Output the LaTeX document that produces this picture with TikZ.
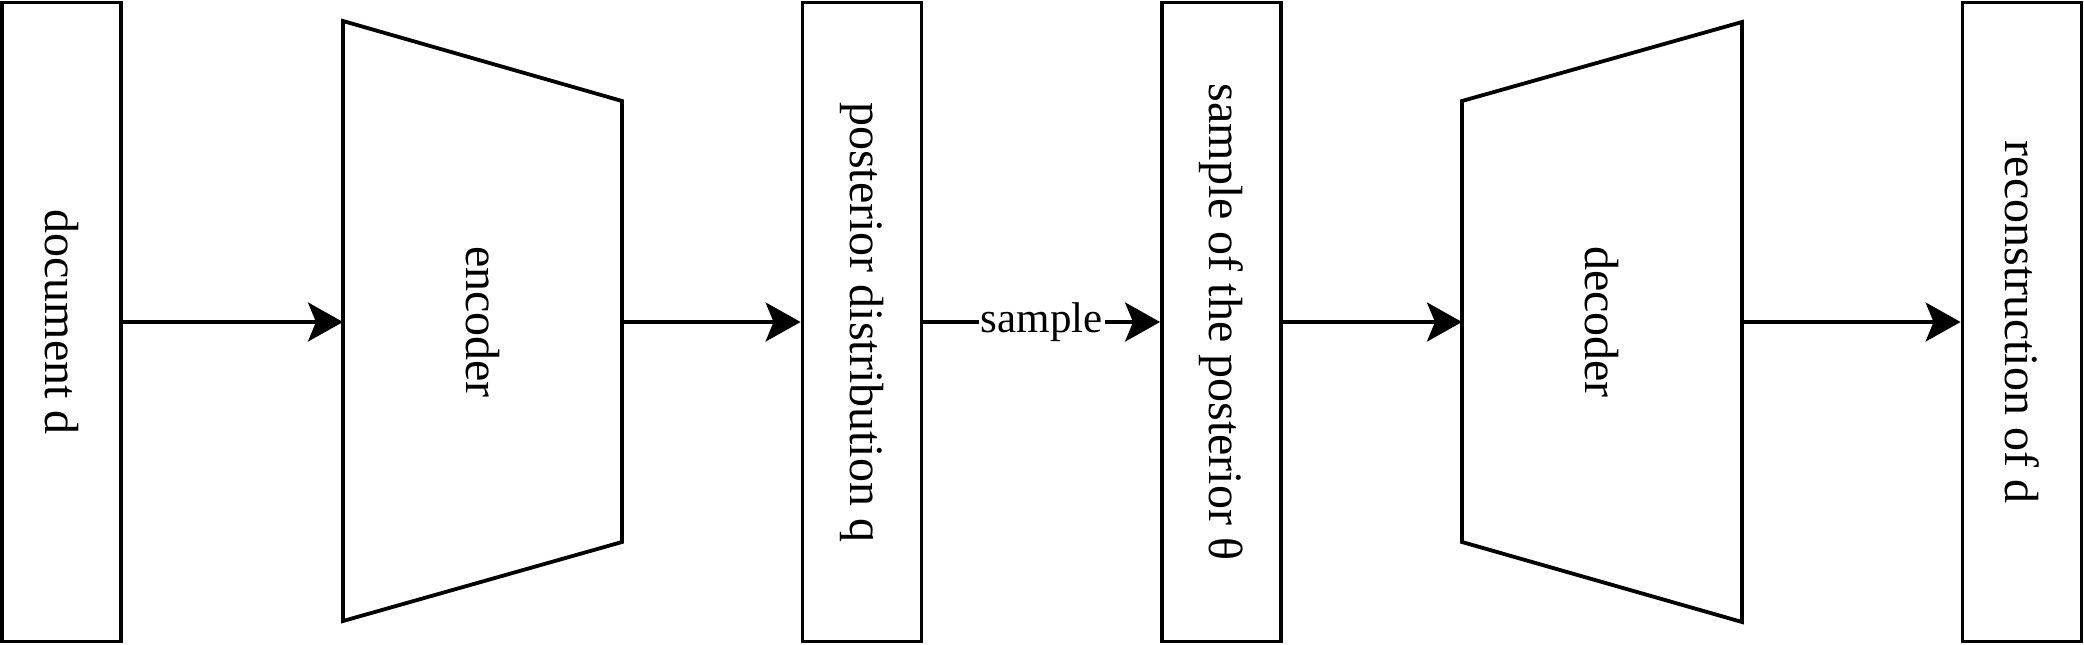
\documentclass[tikz,border=0pt]{standalone}
\usepackage{fontspec}
\setmainfont{Liberation Serif}
\usetikzlibrary{arrows.meta}
\begin{document}
\begin{tikzpicture}[x=0.5pt,y=-0.5pt,
  box/.style={draw,line width=1.9pt,inner sep=0pt,minimum width=59.5pt,minimum height=319.5pt,font=\fontsize{24pt}{28pt}\selectfont},
  trap/.style={draw,line width=1.9pt,line join=miter},
  lbl/.style={inner sep=0pt,font=\fontsize{24pt}{28pt}\selectfont},
  elbl/.style={fill=white,inner sep=1pt,font=\fontsize{21.5pt}{25pt}\selectfont},
  conn/.style={draw,line width=1.8pt,-{Stealth[length=17.5pt,width=19.5pt,inset=4pt]}}]
\useasboundingbox (0,0) rectangle (2084,644);
% boxes
\node[box] (doc) at (61.5,322) {\rotatebox{-90}{document d}};
\node[box] (post) at (862,322) {\rotatebox{-90}{posterior distribution q}};
\node[box] (samp) at (1221.5,322) {\rotatebox{-90}{sample of the posterior θ}};
\node[box] (rec) at (2022,322) {\rotatebox{-90}{reconstruction of d}};
% encoder
\draw[trap] (343,21) -- (622,101) -- (622,542) -- (343,621) -- cycle;
\coordinate (encL) at (343,322);
\coordinate (encR) at (622,322);
\node[lbl] (enc) at (482.5,322) {\rotatebox{-90}{encoder}};
% decoder
\draw[trap] (1462,101) -- (1742,22) -- (1742,622) -- (1462,542) -- cycle;
\coordinate (decL) at (1462,322);
\coordinate (decR) at (1742,322);
\node[lbl] (dec) at (1602,322) {\rotatebox{-90}{decoder}};
% connectors
\draw[conn] (doc.east) -- (encL);
\draw[conn] (encR) -- (post.west);
\draw[conn] (post.east) -- node[elbl] (smp) {sample} (samp.west);
\draw[conn] (samp.east) -- (decL);
\draw[conn] (decR) -- (rec.west);
\end{tikzpicture}
\end{document}
